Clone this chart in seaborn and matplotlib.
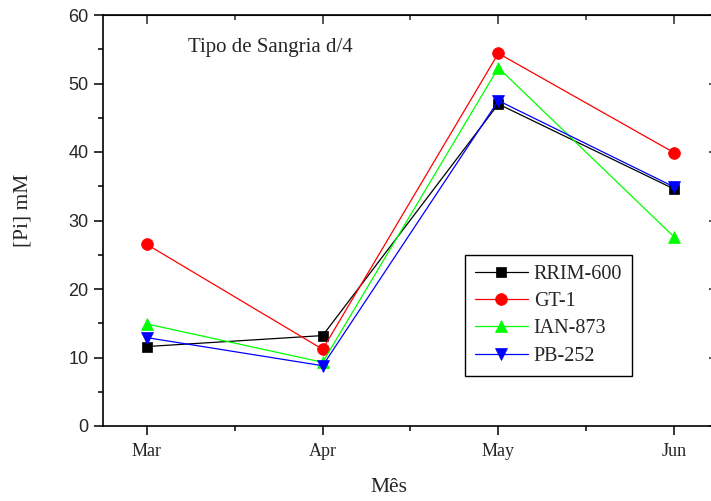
import matplotlib
matplotlib.use("Agg")
import matplotlib.pyplot as plt
from matplotlib.ticker import MultipleLocator, FixedLocator, NullFormatter
import seaborn as sns
import pandas as pd

months = ["Mar", "Apr", "May", "Jun"]
series_names = ["RRIM-600", "GT-1", "IAN-873", "PB-252"]
rrim600 = [11.6, 13.2, 47.0, 34.6]
gt1 = [26.5, 11.2, 54.4, 39.9]
ian873 = [14.9, 9.3, 52.3, 27.6]
pb252 = [12.9, 8.8, 47.5, 34.9]

values = {"RRIM-600": rrim600, "GT-1": gt1, "IAN-873": ian873, "PB-252": pb252}
colors = {"RRIM-600": "#000000", "GT-1": "#ff0000", "IAN-873": "#00ff00", "PB-252": "#0000ff"}
markers = {"RRIM-600": "s", "GT-1": "o", "IAN-873": "^", "PB-252": "v"}
msizes = {"RRIM-600": 7.2, "GT-1": 8.5, "IAN-873": 8.8, "PB-252": 8.8}

rows = []
for name in series_names:
    for i, (m, v) in enumerate(zip(months, values[name])):
        rows.append({"series": name, "pos": i + 1, "month": m, "value": v})
df = pd.DataFrame(rows)

sns.set_style("ticks")
plt.rcParams["font.family"] = ["Liberation Serif", "DejaVu Serif"]

fig = plt.figure(figsize=(7.11, 5.01), dpi=100)
ax = fig.add_axes([103 / 711, 1 - 426 / 501, 615 / 711, 411 / 501])

for name in series_names:
    sub = df[df["series"] == name]
    sns.lineplot(data=sub, x="pos", y="value", ax=ax, color=colors[name],
                 marker=markers[name], markersize=msizes[name],
                 markeredgecolor=colors[name], markeredgewidth=0.5,
                 linewidth=0.9, label=name, legend=False)

ax.set_xlim(0.75, 4.25)
ax.set_ylim(0, 60)
ax.set_xticks([1, 2, 3, 4])
ax.set_xticklabels(months, fontsize=13, family="Liberation Serif")
ax.xaxis.set_minor_locator(FixedLocator([1.5, 2.5, 3.5]))
ax.yaxis.set_major_locator(MultipleLocator(10))
ax.yaxis.set_minor_locator(MultipleLocator(5))
for lab in ax.get_yticklabels():
    lab.set_family("Liberation Sans")
    lab.set_fontsize(13)

ax.tick_params(which="major", direction="out", length=6.5, width=1.1, color="black", pad=4)
ax.tick_params(which="minor", direction="out", length=3.5, width=1.1, color="black")
ax.tick_params(axis="x", which="major", pad=6)
for sp in ax.spines.values():
    sp.set_linewidth(1.2)
    sp.set_color("black")

secx = ax.secondary_xaxis("top")
secx.set_xticks([1, 2, 3, 4])
secx.xaxis.set_minor_locator(FixedLocator([1.5, 2.5, 3.5]))
secx.xaxis.set_major_formatter(NullFormatter())
secx.tick_params(which="major", direction="in", length=6.5, width=1.1)
secx.tick_params(which="minor", direction="in", length=3.5, width=1.1)

secy = ax.secondary_yaxis("right")
secy.yaxis.set_major_locator(MultipleLocator(10))
secy.yaxis.set_minor_locator(MultipleLocator(5))
secy.yaxis.set_major_formatter(NullFormatter())
secy.tick_params(which="major", direction="in", length=6.5, width=1.1)
secy.tick_params(which="minor", direction="in", length=3.5, width=1.1)

ax.set_xlabel("Mês", fontsize=15.5)
ax.set_ylabel("[Pi] mM", fontsize=15.5)
ax.xaxis.set_label_coords(0.465, -0.127)
ax.yaxis.set_label_coords(-0.114, 0.525)

ax.text(0.138, 0.92, "Tipo de Sangria d/4", transform=ax.transAxes,
        fontsize=15, va="center", ha="left")

leg = ax.legend(loc="upper left", bbox_to_anchor=(0.589, 0.416), fontsize=14.5,
                frameon=True, fancybox=False, edgecolor="black", framealpha=1,
                handlelength=2.6, handletextpad=0.3, borderpad=0.5,
                labelspacing=0.4, borderaxespad=0)
leg.get_frame().set_linewidth(1.0)

fig.savefig("out.png", dpi=100)
